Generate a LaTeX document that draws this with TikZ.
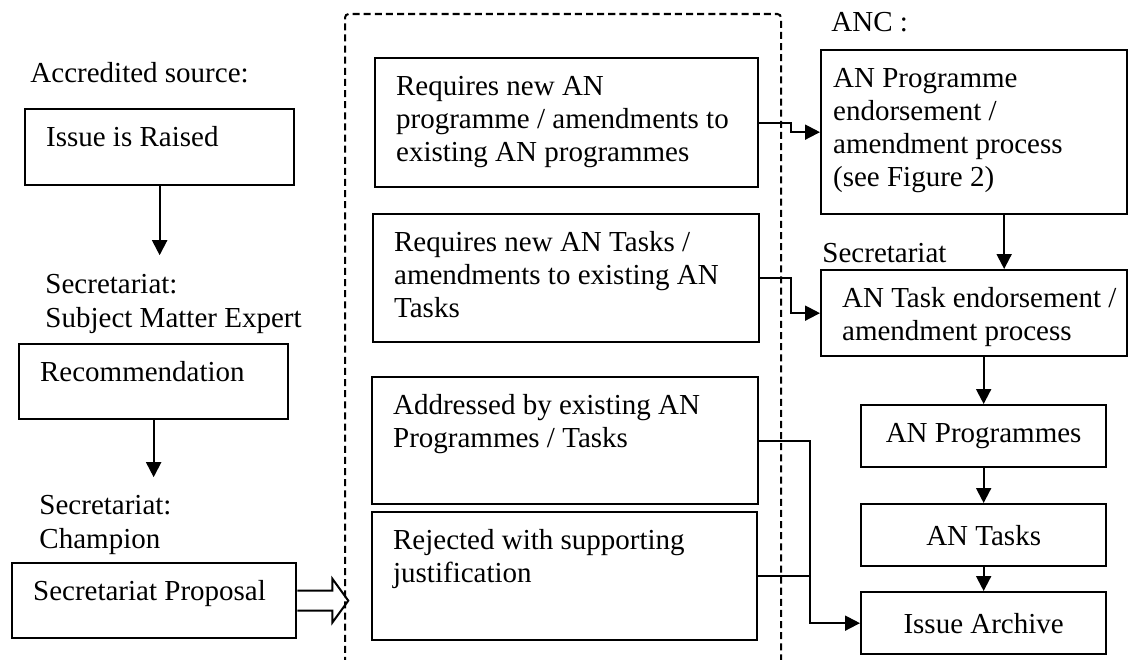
\documentclass[tikz,border=0pt]{standalone}
\usepackage{fontspec}
\setmainfont{Liberation Serif}
\usetikzlibrary{positioning, arrows.meta}

\newlength\pxu
\setlength\pxu{0.4138pt}
% text box: [pad]{width}{height}{lines}, sizes in pixels
\newcommand\boxtxt[4][21]{\parbox[t][\dimexpr#3\pxu-28\pxu\relax][t]{\dimexpr#2\pxu-#1\pxu-#1\pxu\relax}{\begin{tabular}[t]{@{}l@{}}#4\end{tabular}}}

\begin{document}
\fontsize{12}{13.66}\selectfont
\begin{tikzpicture}[
        x=0.4138pt, y=-0.4138pt, >={Triangle[length=6.2pt, width=6.2pt]},
        box/.style={rectangle, draw, line width=0.95pt, anchor=north west, inner xsep=21*\pxu, inner ysep=14*\pxu},
        cbox/.style={rectangle, draw, line width=0.95pt, anchor=north west, minimum width=245*\pxu, minimum height=62*\pxu, inner sep=0pt},
        lbl/.style={anchor=base west, align=left, inner sep=0pt},
        flow/.style={line width=0.83pt}
    ]
        \useasboundingbox (0,0) rectangle (1138,660);

        % --- DASHED FRAME ---
        \draw[flow, dash pattern=on 2.9pt off 1.7pt, rounded corners=1.5pt] (345,664) -- (345,14) -- (781,14) -- (781,664);

        % --- LEFT COLUMN ---
        \node[lbl] (accr) at (30,82) {Accredited source:};
        \node[box] (issue) at (24,108) {\boxtxt{269}{76}{Issue is Raised}};

        \node[lbl] (sme) at (45,327) {Secretariat:\\Subject Matter Expert};
        \node[box] (rec) at (18,343) {\boxtxt{269}{75}{Recommendation}};

        \node[lbl] (champ) at (39,548) {Secretariat:\\Champion};
        \node[box] (prop) at (11,562) {\boxtxt{284}{75}{Secretariat Proposal}};

        % --- MIDDLE: OUTCOMES ---
        \node[box] (newprog) at (374,57) {\boxtxt{383}{129}{Requires new AN\\programme / amendments to\\existing AN programmes}};
        \node[box] (newtask) at (372,213) {\boxtxt{386}{128}{Requires new AN Tasks /\\amendments to existing AN\\Tasks}};
        \node[box] (addr) at (371,376) {\boxtxt{386}{127}{Addressed by existing AN\\Programmes / Tasks}};
        \node[box] (rej) at (371,511) {\boxtxt{385}{128}{Rejected with supporting\\justification}};

        % --- RIGHT COLUMN ---
        \node[lbl] (anc) at (831,32) {ANC :};
        \node[box, inner xsep=12*\pxu] (progend) at (820,49) {\boxtxt[12]{306}{164}{AN Programme\\endorsement /\\amendment process\\(see Figure 2)}};
        \node[lbl] (sec) at (822,262) {Secretariat};
        \node[box] (taskend) at (820,269) {\boxtxt{306}{86}{AN Task endorsement /\\amendment process}};
        \node[cbox] (anprog) at (860,404) {AN Programmes};
        \node[cbox] (antask) at (860,503) {AN Tasks};
        \node[cbox] (archive) at (860,591) {Issue Archive};

        % --- CONNECTIONS ---
        \draw[flow, ->, shorten >=7.9pt] (issue.south) -- (issue.south |- sme.north);
        \draw[flow, ->, shorten >=7.5pt] (rec.south) -- (rec.south |- champ.north);
        % block arrow into the frame
        \draw[flow] (prop.east) ++(0,-10) -- ++(35,0) -- ++(0,-12) -- ++(16,22) -- ++(-16,22) -- ++(0,-12) -- ++(-35,0);

        \draw[flow, ->] (newprog.east) -- ++(32,0) |- (progend.west);
        \draw[flow, ->] (newtask.east) -- ++(31,0) |- (taskend.west);

        \draw[flow, ->] ([xshift=30*\pxu]progend.south) -- ([xshift=30*\pxu]taskend.north);
        \draw[flow, ->] (taskend.south -| anprog.north) -- (anprog.north);
        \draw[flow, ->] (anprog) -- (antask);
        \draw[flow, ->] (antask) -- (archive);

        \draw[flow, ->] (addr.east) -- ++(51,0) coordinate (mrg) |- (archive.west);
        \draw[flow] (rej.east) -- (rej.east -| mrg);

    \end{tikzpicture}
\end{document}
